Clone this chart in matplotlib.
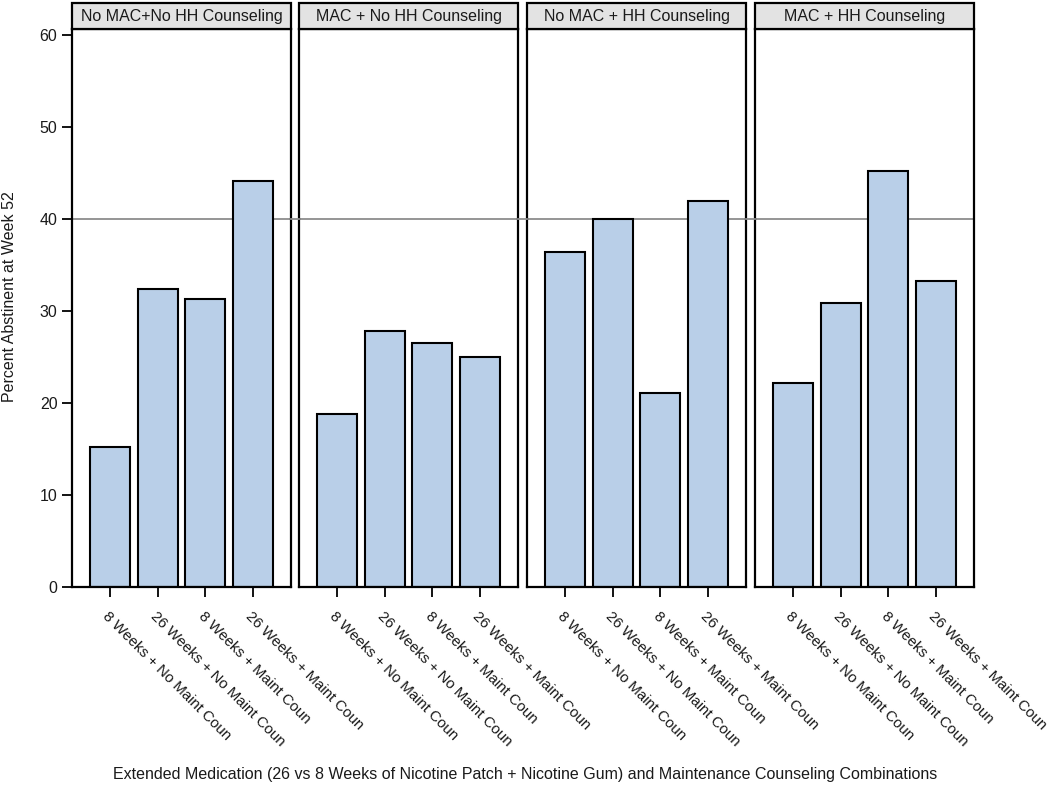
import matplotlib.pyplot as plt
import matplotlib.patches as mpatches
from matplotlib.lines import Line2D
from matplotlib.transforms import ScaledTranslation
import numpy as np

plt.rcParams['font.family'] = ['Liberation Sans', 'DejaVu Sans']

panels = ["No MAC+No HH Counseling", "MAC + No HH Counseling",
          "No MAC + HH Counseling", "MAC + HH Counseling"]
categories = ["8 Weeks + No Maint Coun", "26 Weeks + No Maint Coun",
              "8 Weeks + Maint Coun", "26 Weeks + Maint Coun"]
abstinent = [
    [15.2, 32.4, 31.3, 44.1],
    [18.8, 27.8, 26.5, 25.0],
    [36.4, 40.0, 21.1, 42.0],
    [22.2, 30.9, 45.2, 33.3],
]
ref_line = 40

W, H = 1050, 793
fig = plt.figure(figsize=(W / 100, H / 100), dpi=100)

txt = '#1a1a1a'
bar_col = '#b9cfe8'
fs = 11.5
lefts = [72, 299, 527, 755]
pw = 219
bottom, top = 587, 29
ax_h = (bottom - top) / H
x = np.arange(len(categories))
shift = ScaledTranslation(-11 / 100, 0, fig.dpi_scale_trans)

for i, (title, vals) in enumerate(zip(panels, abstinent)):
    ax = fig.add_axes([lefts[i] / W, 1 - bottom / H, pw / W, ax_h])
    ax.axhline(ref_line, color='#8c8c8c', lw=1.3, zorder=1)
    ax.bar(x, vals, width=0.84, color=bar_col, edgecolor='black', lw=1.5, zorder=2)
    ax.set_xlim(-0.8, 3.8)
    ax.set_ylim(0, 60.65)
    ax.set_xticks(x)
    ax.set_xticklabels(categories, rotation=-45, ha='left', va='top',
                       rotation_mode='anchor', fontsize=10.8, color=txt)
    for lbl in ax.get_xticklabels():
        lbl.set_transform(lbl.get_transform() + shift)
    ax.tick_params(axis='x', length=7, width=1.3, pad=9)
    for s in ax.spines.values():
        s.set_linewidth(1.6)
    if i == 0:
        ax.set_yticks([0, 10, 20, 30, 40, 50, 60])
        ax.tick_params(axis='y', length=7, width=1.3, labelsize=fs, labelcolor=txt)
    else:
        ax.set_yticks([])
    # strip header
    hh = 26 / (bottom - top)
    ax.add_patch(mpatches.Rectangle((0, 1), 1, hh, transform=ax.transAxes,
                                    facecolor='#e3e3e3', edgecolor='black',
                                    lw=1.6, clip_on=False, zorder=5))
    ax.text(0.5, 1 + hh / 2, title, transform=ax.transAxes, ha='center',
            va='center', fontsize=fs, color=txt, zorder=6)

# reference line continues across panel gaps
y40 = 1 - (bottom - ref_line * (bottom - top) / 60.65) / H
for i in range(len(lefts) - 1):
    fig.add_artist(Line2D([(lefts[i] + pw) / W, lefts[i + 1] / W], [y40, y40],
                          color='#8c8c8c', lw=1.3, transform=fig.transFigure))

fig.text(10 / W, 1 - 297 / H, "Percent Abstinent at Week 52", rotation=90,
         ha='center', va='center', fontsize=fs, color=txt)
fig.text(0.5, 1 - 775 / H,
         "Extended Medication (26 vs 8 Weeks of Nicotine Patch + Nicotine Gum) and Maintenance Counseling Combinations",
         ha='center', va='center', fontsize=fs, color=txt)

fig.savefig("out.png", dpi=100)
